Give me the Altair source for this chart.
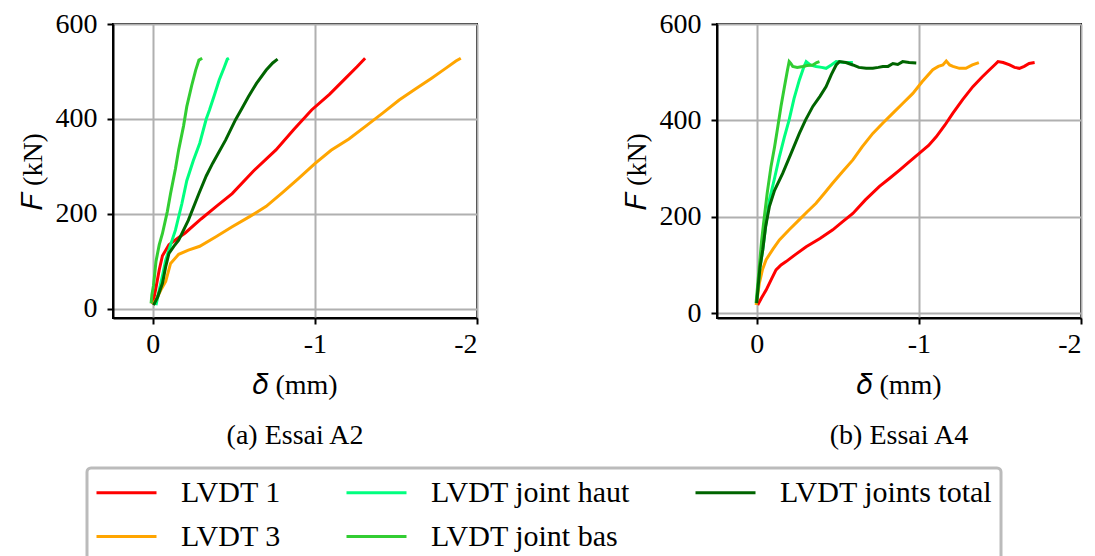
import altair as alt
import pandas as pd

FONT = "Liberation Serif"

series = ["LVDT 1", "LVDT 3", "LVDT joint haut", "LVDT joint bas", "LVDT joints total"]
legend_order = ["LVDT 1", "LVDT joint haut", "LVDT joints total", "LVDT 3", "LVDT joint bas"]
colors = {"LVDT 1": "#ff0000", "LVDT 3": "#ffa500", "LVDT joint haut": "#00ff7f",
          "LVDT joint bas": "#32cd32", "LVDT joints total": "#006400"}

# ---- Essai A2 ----
a2_lvdt1_d = [0.0, -0.02, -0.04, -0.06, -0.10, -0.15, -0.20, -0.30, -0.40, -0.49, -0.62, -0.76, -0.87, -0.98, -1.09, -1.19, -1.26, -1.31]
a2_lvdt1_f = [10, 45, 82, 112, 135, 148, 160, 190, 218, 243, 290, 335, 378, 419, 452, 486, 510, 528]
a2_lvdt3_d = [0.0, -0.02, -0.05, -0.08, -0.11, -0.16, -0.22, -0.29, -0.39, -0.49, -0.60, -0.70, -0.80, -0.90, -1.00, -1.10, -1.21, -1.31, -1.42, -1.52, -1.62, -1.72, -1.80, -1.87, -1.90]
a2_lvdt3_f = [10, 19, 40, 58, 96, 115, 124, 132, 152, 173, 195, 216, 245, 275, 306, 334, 358, 384, 413, 440, 463, 486, 505, 522, 528]
a2_haut_d = [-0.02, -0.04, -0.06, -0.08, -0.11, -0.14, -0.18, -0.21, -0.25, -0.29, -0.33, -0.35, -0.38, -0.41, -0.44, -0.46, -0.47]
a2_haut_f = [8, 40, 70, 103, 135, 166, 222, 270, 312, 349, 400, 419, 450, 482, 508, 526, 528]
a2_bas_d = [0.01, 0.005, -0.005, -0.02, -0.04, -0.06, -0.09, -0.11, -0.14, -0.16, -0.19, -0.21, -0.24, -0.265, -0.285, -0.305]
a2_bas_f = [12, 30, 50, 100, 135, 159, 205, 243, 295, 335, 385, 426, 470, 503, 524, 528]
a2_tot_d = [-0.005, -0.03, -0.06, -0.08, -0.10, -0.13, -0.16, -0.22, -0.285, -0.33, -0.37, -0.45, -0.51, -0.55, -0.59, -0.64, -0.70, -0.74, -0.77]
a2_tot_f = [8, 25, 54, 89, 117, 132, 145, 187, 243, 280, 307, 356, 398, 422, 447, 475, 503, 518, 526]

# ---- Essai A4 ----
a4_lvdt1_d = [-0.006, -0.03, -0.058, -0.09, -0.119, -0.15, -0.181, -0.24, -0.305, -0.39, -0.469, -0.53, -0.593, -0.67, -0.757, -0.82, -0.881, -0.94, -1.004, -1.06, -1.107, -1.16, -1.21, -1.27, -1.333, -1.39, -1.436, -1.47, -1.488, -1.52, -1.56, -1.59, -1.62, -1.65, -1.68, -1.714]
a4_lvdt1_f = [17, 32, 48, 70, 90, 100, 107, 122, 138, 155, 173, 190, 207, 235, 263, 280, 297, 314, 332, 348, 366, 390, 415, 443, 470, 490, 505, 516, 522, 520, 515, 510, 508, 512, 518, 520]
a4_lvdt3_d = [0.004, -0.005, -0.016, -0.035, -0.058, -0.10, -0.14, -0.20, -0.263, -0.31, -0.366, -0.42, -0.469, -0.53, -0.593, -0.65, -0.716, -0.78, -0.84, -0.90, -0.963, -1.02, -1.086, -1.12, -1.148, -1.169, -1.19, -1.21, -1.25, -1.29, -1.33, -1.37]
a4_lvdt3_f = [17, 35, 62, 90, 111, 133, 152, 173, 194, 210, 228, 250, 270, 294, 318, 345, 373, 395, 415, 435, 456, 480, 505, 512, 515, 523, 515, 512, 508, 508, 515, 520]
a4_haut_d = [0.0, -0.01, -0.02, -0.037, -0.055, -0.078, -0.11, -0.14, -0.17, -0.20, -0.23, -0.263, -0.29, -0.305, -0.33, -0.366, -0.40, -0.428, -0.46, -0.49, -0.54, -0.593]
a4_haut_f = [28, 60, 95, 131, 180, 235, 280, 325, 365, 401, 445, 484, 510, 522, 515, 512, 510, 508, 515, 522, 520, 520]
a4_bas_d = [0.004, -0.005, -0.016, -0.03, -0.047, -0.065, -0.088, -0.11, -0.13, -0.15, -0.171, -0.19, -0.20, -0.21, -0.222, -0.25, -0.284, -0.31, -0.346, -0.37, -0.387]
a4_bas_f = [21, 55, 97, 150, 200, 250, 304, 345, 387, 430, 470, 505, 522, 518, 512, 510, 512, 514, 515, 520, 522]
a4_tot_d = [0.0, -0.01, -0.02, -0.037, -0.055, -0.078, -0.11, -0.16, -0.21, -0.263, -0.30, -0.346, -0.39, -0.428, -0.46, -0.49, -0.51, -0.55, -0.593, -0.63, -0.675, -0.716, -0.75, -0.778, -0.81, -0.84, -0.87, -0.90, -0.94, -0.984]
a4_tot_f = [21, 60, 95, 131, 180, 221, 255, 290, 330, 373, 400, 429, 450, 470, 495, 515, 522, 520, 515, 510, 508, 508, 510, 512, 512, 518, 516, 522, 520, 519]

a2 = {"LVDT 1": (a2_lvdt1_d, a2_lvdt1_f), "LVDT 3": (a2_lvdt3_d, a2_lvdt3_f),
      "LVDT joint haut": (a2_haut_d, a2_haut_f), "LVDT joint bas": (a2_bas_d, a2_bas_f),
      "LVDT joints total": (a2_tot_d, a2_tot_f)}
a4 = {"LVDT 1": (a4_lvdt1_d, a4_lvdt1_f), "LVDT 3": (a4_lvdt3_d, a4_lvdt3_f),
      "LVDT joint haut": (a4_haut_d, a4_haut_f), "LVDT joint bas": (a4_bas_d, a4_bas_f),
      "LVDT joints total": (a4_tot_d, a4_tot_f)}


def frame(d):
    rows = []
    for s in series:
        xs, ys = d[s]
        for i, (x, y) in enumerate(zip(xs, ys)):
            rows.append({"serie": s, "i": i, "delta": x, "F": y})
    return pd.DataFrame(rows)


legend = alt.Legend(
    title=None, orient="none", legendX=-26, legendY=444, columns=3, direction="horizontal",
    symbolType="M-1,0H3", symbolSize=900, symbolStrokeWidth=3, symbolFillColor="transparent",
    labelFont=FONT, labelFontSize=30, labelLimit=500, labelColor="black",
    columnPadding=59, rowPadding=12, labelOffset=53,
    strokeColor="#bbbbbb", fillColor="white", padding=8, cornerRadius=4,
)


def panel(d, caption, ymin):
    return alt.Chart(frame(d)).mark_line(strokeWidth=3).encode(
        x=alt.X("delta:Q", title="𝛿 (mm)",
                scale=alt.Scale(domain=[-2, 0.245], reverse=True, nice=False, zero=False),
                axis=alt.Axis(values=[0, -1, -2], labelPadding=6, titlePadding=13,
                              labelExpr="datum.value == 0 ? '0' : '-' + format(abs(datum.value), 'd')")),
        y=alt.Y("F:Q", title="𝐹 (kN)",
                scale=alt.Scale(domain=[ymin, 600], nice=False, zero=False),
                axis=alt.Axis(values=[0, 200, 400, 600], labelPadding=10, titlePadding=8)),
        color=alt.Color("serie:N", scale=alt.Scale(domain=legend_order,
                                                   range=[colors[s] for s in legend_order]),
                        legend=legend),
        order=alt.Order("i:Q"),
        detail="serie:N",
    ).properties(
        width=364, height=294,
        title=alt.TitleParams(caption, orient="bottom", font=FONT, fontSize=28,
                              fontWeight="normal", color="black", offset=23),
    )


chart = alt.hconcat(
    panel(a2, "(a) Essai A2", -19),
    panel(a4, "(b) Essai A4", -10),
    spacing=143,
).configure(
    padding={"left": 10, "top": 1, "right": 0, "bottom": 0},
).configure_view(
    stroke="black", strokeWidth=2,
).configure_axis(
    labelFont=FONT, titleFont=FONT, labelFontSize=28, titleFontSize=28,
    titleFontWeight="normal", labelColor="black", titleColor="black",
    tickColor="black", tickWidth=2, tickSize=6, domainColor="black", domainWidth=2,
    gridColor="#b0b0b0", gridWidth=2,
).configure_legend(
    strokeWidth=3,
)

chart.save("out.html", embed_options={"renderer": "svg", "actions": False})
